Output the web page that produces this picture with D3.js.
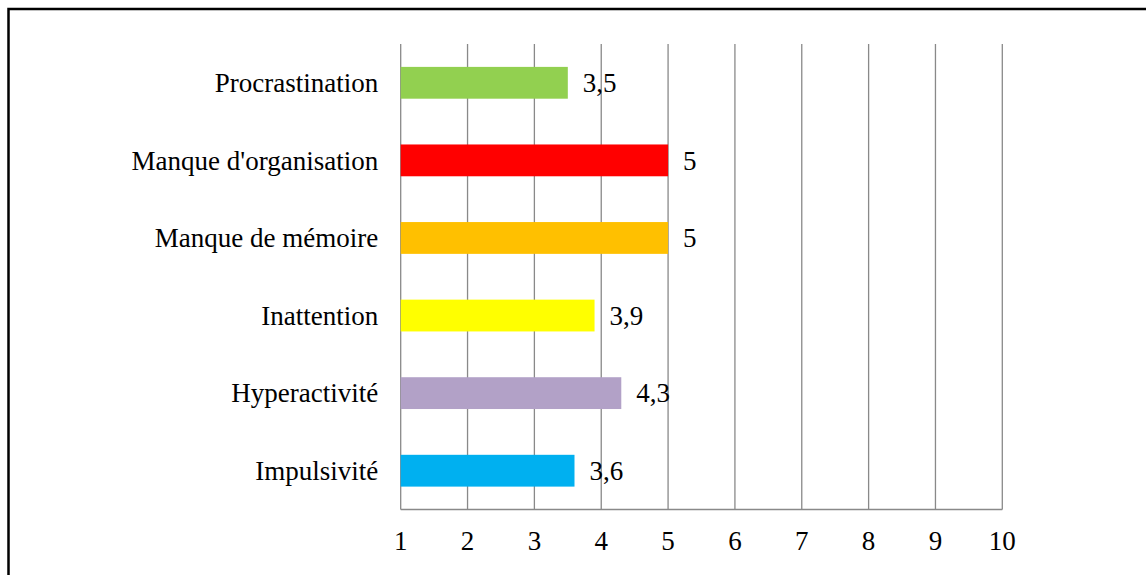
<!DOCTYPE html>
<html>
<head>
<meta charset="utf-8">
<script src="https://cdn.jsdelivr.net/npm/d3@7"></script>
<style>
  html, body { margin: 0; padding: 0; background: #fff; }
  svg { display: block; }
  text { font-family: "Liberation Serif", "Times New Roman", serif; fill: #000; }
</style>
</head>
<body>
<svg id="chart" width="1146" height="575"></svg>
<script>
// Categories, top to bottom
const categories = ["Procrastination", "Manque d'organisation", "Manque de mémoire", "Inattention", "Hyperactivité", "Impulsivité"];
// Mean score per category
const values = [3.5, 5, 5, 3.9, 4.3, 3.6];
// Bar fill per category
const colors = ["#92D050", "#FF0000", "#FFC000", "#FFFF00", "#B2A1C7", "#00B0F0"];
// Horizontal axis ticks
const ticks = [1, 2, 3, 4, 5, 6, 7, 8, 9, 10];

const svg = d3.select("#chart");
const W = 1146, H = 575;
const plot = { left: 400.7, right: 1002.3, top: 44, bottom: 509.5 };
const fontSize = 27;

// Frame around the chart area (left and top edges)
svg.append("path")
  .attr("d", `M8.5,${H} L8.5,9 L${W},9`)
  .attr("fill", "none")
  .attr("stroke", "#000")
  .attr("stroke-width", 2.5);

const x = d3.scaleLinear().domain([1, 10]).range([plot.left, plot.right]);
const y = d3.scaleBand().domain(categories).range([plot.top, plot.bottom]).paddingInner(0.59).paddingOuter(0.295);

// Vertical gridlines
svg.append("g").selectAll("line").data(ticks).join("line")
  .attr("x1", d => x(d)).attr("x2", d => x(d))
  .attr("y1", plot.top).attr("y2", plot.bottom)
  .attr("stroke", "#898989").attr("stroke-width", 1.3);

// Bottom axis line
svg.append("line")
  .attr("x1", plot.left).attr("x2", plot.right)
  .attr("y1", plot.bottom).attr("y2", plot.bottom)
  .attr("stroke", "#898989").attr("stroke-width", 1.3);

// Bars
svg.append("g").selectAll("rect").data(categories).join("rect")
  .attr("x", x(1))
  .attr("y", d => y(d))
  .attr("width", (d, i) => x(values[i]) - x(1))
  .attr("height", y.bandwidth())
  .attr("fill", (d, i) => colors[i]);

// Value labels
const fmt = v => String(v).replace(".", ",");
svg.append("g").selectAll("text").data(categories).join("text")
  .attr("x", (d, i) => x(values[i]) + 15)
  .attr("y", d => y(d) + y.bandwidth() / 2 + 9.3)
  .attr("font-size", fontSize)
  .text((d, i) => fmt(values[i]));

// Category labels
svg.append("g").selectAll("text").data(categories).join("text")
  .attr("x", plot.left - 22.5)
  .attr("y", d => y(d) + y.bandwidth() / 2 + 9.3)
  .attr("text-anchor", "end")
  .attr("font-size", fontSize)
  .text(d => d);

// Tick labels
svg.append("g").selectAll("text").data(ticks).join("text")
  .attr("x", d => x(d))
  .attr("y", 550)
  .attr("text-anchor", "middle")
  .attr("font-size", fontSize)
  .text(d => d);
</script>
</body>
</html>
